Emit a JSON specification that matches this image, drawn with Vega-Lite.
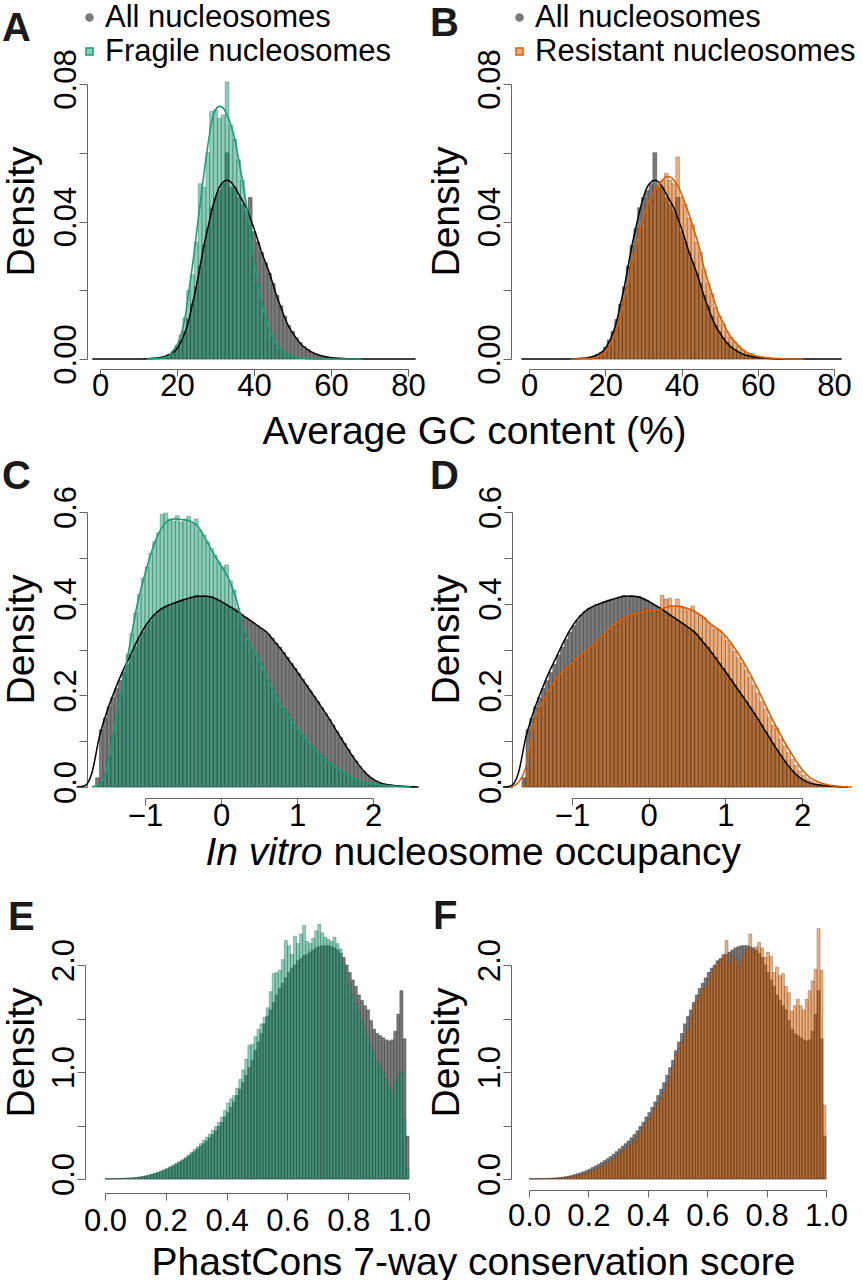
{
"$schema":"https://vega.github.io/schema/vega-lite/v6.json",
"background":"white",
"padding":{"left":2,"top":2,"right":5,"bottom":0},
"autosize":{"type":"pad"},
"config":{
 "font":"Liberation Sans",
 "view":{"stroke":null},
 "axis":{"grid":false,"domainColor":"#666666","tickColor":"#666666","domainWidth":1,"tickWidth":1,"labelColor":"#000000","labelFontSize":31,"labelFont":"Liberation Sans","titleFont":"Liberation Sans","titleFontSize":39,"titleFontWeight":"normal","titleColor":"#000000","labelFlush":false,"labelOverlap":false},
 "title":{"fontSize":40,"fontWeight":"bold","anchor":"start","frame":"group","offset":0,"color":"#1a1a1a","font":"Liberation Sans"},
 "legend":{"labelFont":"Liberation Sans"}
},
"datasets":{
 "gc":[
{"x0":11.5,"x1":12.5,"a":0.0001,"f":0,"r":0},
{"x0":12.5,"x1":13.5,"a":0.0001,"f":0,"r":0},
{"x0":13.5,"x1":14.5,"a":0.0002,"f":0,"r":0},
{"x0":14.5,"x1":15.5,"a":0.0003,"f":0.0001,"r":0.0001},
{"x0":15.5,"x1":16.5,"a":0.0005,"f":0.0002,"r":0.0001},
{"x0":16.5,"x1":17.5,"a":0.0008,"f":0.0005,"r":0.0003},
{"x0":17.5,"x1":18.5,"a":0.0013,"f":0.001,"r":0.0006},
{"x0":18.5,"x1":19.5,"a":0.002,"f":0.0022,"r":0.0012},
{"x0":19.5,"x1":20.5,"a":0.0035,"f":0.004,"r":0.002},
{"x0":20.5,"x1":21.5,"a":0.0055,"f":0.007,"r":0.0035},
{"x0":21.5,"x1":22.5,"a":0.008,"f":0.012,"r":0.0055},
{"x0":22.5,"x1":23.5,"a":0.0115,"f":0.02,"r":0.0085},
{"x0":23.5,"x1":24.5,"a":0.016,"f":0.0245,"r":0.0125},
{"x0":24.5,"x1":25.5,"a":0.021,"f":0.034,"r":0.017},
{"x0":25.5,"x1":26.5,"a":0.027,"f":0.051,"r":0.021},
{"x0":26.5,"x1":27.5,"a":0.033,"f":0.05,"r":0.028},
{"x0":27.5,"x1":28.5,"a":0.038,"f":0.06,"r":0.031},
{"x0":28.5,"x1":29.5,"a":0.044,"f":0.072,"r":0.038},
{"x0":29.5,"x1":30.5,"a":0.047,"f":0.0725,"r":0.04},
{"x0":30.5,"x1":31.5,"a":0.049,"f":0.07,"r":0.045},
{"x0":31.5,"x1":32.5,"a":0.051,"f":0.071,"r":0.046},
{"x0":32.5,"x1":33.5,"a":0.06,"f":0.0806,"r":0.05},
{"x0":33.5,"x1":34.5,"a":0.05,"f":0.068,"r":0.051},
{"x0":34.5,"x1":35.5,"a":0.05,"f":0.064,"r":0.052},
{"x0":35.5,"x1":36.5,"a":0.047,"f":0.058,"r":0.054},
{"x0":36.5,"x1":37.5,"a":0.045,"f":0.052,"r":0.052},
{"x0":37.5,"x1":38.5,"a":0.043,"f":0.044,"r":0.051},
{"x0":38.5,"x1":39.5,"a":0.047,"f":0.039,"r":0.0588},
{"x0":39.5,"x1":40.5,"a":0.037,"f":0.028,"r":0.047},
{"x0":40.5,"x1":41.5,"a":0.034,"f":0.022,"r":0.045},
{"x0":41.5,"x1":42.5,"a":0.031,"f":0.0165,"r":0.041},
{"x0":42.5,"x1":43.5,"a":0.028,"f":0.012,"r":0.039},
{"x0":43.5,"x1":44.5,"a":0.025,"f":0.0085,"r":0.034},
{"x0":44.5,"x1":45.5,"a":0.022,"f":0.006,"r":0.031},
{"x0":45.5,"x1":46.5,"a":0.0185,"f":0.004,"r":0.026},
{"x0":46.5,"x1":47.5,"a":0.0155,"f":0.0027,"r":0.022},
{"x0":47.5,"x1":48.5,"a":0.0125,"f":0.0018,"r":0.019},
{"x0":48.5,"x1":49.5,"a":0.0098,"f":0.0012,"r":0.015},
{"x0":49.5,"x1":50.5,"a":0.008,"f":0.0008,"r":0.0125},
{"x0":50.5,"x1":51.5,"a":0.0062,"f":0.0005,"r":0.0102},
{"x0":51.5,"x1":52.5,"a":0.0048,"f":0.0003,"r":0.008},
{"x0":52.5,"x1":53.5,"a":0.0036,"f":0.0002,"r":0.0063},
{"x0":53.5,"x1":54.5,"a":0.0027,"f":0.0001,"r":0.0049},
{"x0":54.5,"x1":55.5,"a":0.002,"f":0.0001,"r":0.0038},
{"x0":55.5,"x1":56.5,"a":0.0015,"f":0,"r":0.0028},
{"x0":56.5,"x1":57.5,"a":0.0011,"f":0,"r":0.002},
{"x0":57.5,"x1":58.5,"a":0.0008,"f":0,"r":0.0015},
{"x0":58.5,"x1":59.5,"a":0.0006,"f":0,"r":0.0011},
{"x0":59.5,"x1":60.5,"a":0.0004,"f":0,"r":0.0008},
{"x0":60.5,"x1":61.5,"a":0.0003,"f":0,"r":0.0006},
{"x0":61.5,"x1":62.5,"a":0.0002,"f":0,"r":0.0004},
{"x0":62.5,"x1":63.5,"a":0.0001,"f":0,"r":0.0003},
{"x0":63.5,"x1":64.5,"a":0.0001,"f":0,"r":0.0002},
{"x0":64.5,"x1":65.5,"a":0,"f":0,"r":0.0001},
{"x0":65.5,"x1":66.5,"a":0,"f":0,"r":0.0001}
 ],
 "gcd":[
{"x0":-2,"a":0,"f":null,"r":null},
{"x0":4,"a":0,"f":null,"r":null},
{"x0":8,"a":0,"f":null,"r":null},
{"x0":11,"a":0,"f":null,"r":0},
{"x0":12,"a":0.0001,"f":0,"r":0},
{"x0":14,"a":0.0002,"f":0.0001,"r":0.0001},
{"x0":15,"a":0.0003,"f":0.0001,"r":0.0001},
{"x0":16,"a":0.0005,"f":0.0002,"r":0.0001},
{"x0":17,"a":0.0008,"f":0.0005,"r":0.0003},
{"x0":18,"a":0.0013,"f":0.001,"r":0.0006},
{"x0":19,"a":0.0019,"f":0.0025,"r":0.0012},
{"x0":20,"a":0.003,"f":0.004,"r":0.002},
{"x0":21,"a":0.005,"f":0.0068,"r":0.0035},
{"x0":22,"a":0.0075,"f":0.0115,"r":0.0055},
{"x0":23,"a":0.011,"f":0.019,"r":0.0085},
{"x0":24,"a":0.016,"f":0.027,"r":0.0125},
{"x0":25,"a":0.021,"f":0.036,"r":0.017},
{"x0":26,"a":0.027,"f":0.045,"r":0.022},
{"x0":27,"a":0.033,"f":0.054,"r":0.027},
{"x0":28,"a":0.038,"f":0.062,"r":0.032},
{"x0":29,"a":0.043,"f":0.069,"r":0.037},
{"x0":30,"a":0.047,"f":0.0725,"r":0.041},
{"x0":31,"a":0.05,"f":0.0735,"r":0.0445},
{"x0":32,"a":0.0515,"f":0.073,"r":0.047},
{"x0":33,"a":0.052,"f":0.071,"r":0.049},
{"x0":34,"a":0.0515,"f":0.068,"r":0.0505},
{"x0":35,"a":0.05,"f":0.064,"r":0.052},
{"x0":36,"a":0.048,"f":0.058,"r":0.053},
{"x0":37,"a":0.046,"f":0.052,"r":0.053},
{"x0":38,"a":0.044,"f":0.045,"r":0.052},
{"x0":39,"a":0.041,"f":0.037,"r":0.0505},
{"x0":40,"a":0.038,"f":0.029,"r":0.048},
{"x0":41,"a":0.0345,"f":0.022,"r":0.045},
{"x0":42,"a":0.031,"f":0.0165,"r":0.042},
{"x0":43,"a":0.028,"f":0.012,"r":0.0385},
{"x0":44,"a":0.025,"f":0.0085,"r":0.035},
{"x0":45,"a":0.0215,"f":0.006,"r":0.031},
{"x0":46,"a":0.018,"f":0.004,"r":0.026},
{"x0":47,"a":0.015,"f":0.0027,"r":0.0225},
{"x0":48,"a":0.012,"f":0.0018,"r":0.019},
{"x0":49,"a":0.0095,"f":0.0012,"r":0.0155},
{"x0":50,"a":0.0077,"f":0.0008,"r":0.0125},
{"x0":51,"a":0.006,"f":0.0005,"r":0.0105},
{"x0":52,"a":0.0046,"f":0.0003,"r":0.008},
{"x0":53,"a":0.0035,"f":0.0002,"r":0.0063},
{"x0":54,"a":0.0027,"f":0.0001,"r":0.005},
{"x0":55,"a":0.002,"f":0.0001,"r":0.0038},
{"x0":56,"a":0.0015,"f":0,"r":0.0028},
{"x0":57,"a":0.0011,"f":0,"r":0.002},
{"x0":58,"a":0.0008,"f":0,"r":0.0015},
{"x0":60,"a":0.0004,"f":0,"r":0.0008},
{"x0":62,"a":0.0002,"f":0,"r":0.0004},
{"x0":64,"a":0.0001,"f":0,"r":0.0002},
{"x0":66,"a":0,"f":0,"r":0.0001},
{"x0":68,"a":0,"f":0,"r":0},
{"x0":72,"a":0,"f":null,"r":0},
{"x0":76,"a":0,"f":null,"r":null},
{"x0":82,"a":0,"f":null,"r":null}
 ],
 "occ":[
{"x0":-1.65,"x1":-1.6,"a":0.02,"f":0.003,"r":0.01},
{"x0":-1.6,"x1":-1.55,"a":0.125,"f":0.01,"r":0.04},
{"x0":-1.55,"x1":-1.5,"a":0.15,"f":0.03,"r":0.1},
{"x0":-1.5,"x1":-1.45,"a":0.175,"f":0.065,"r":0.15},
{"x0":-1.45,"x1":-1.4,"a":0.195,"f":0.11,"r":0.17},
{"x0":-1.4,"x1":-1.35,"a":0.215,"f":0.155,"r":0.19},
{"x0":-1.35,"x1":-1.3,"a":0.232,"f":0.2,"r":0.205},
{"x0":-1.3,"x1":-1.25,"a":0.25,"f":0.245,"r":0.22},
{"x0":-1.25,"x1":-1.2,"a":0.268,"f":0.29,"r":0.232},
{"x0":-1.2,"x1":-1.15,"a":0.288,"f":0.335,"r":0.245},
{"x0":-1.15,"x1":-1.1,"a":0.305,"f":0.38,"r":0.25},
{"x0":-1.1,"x1":-1.05,"a":0.322,"f":0.42,"r":0.262},
{"x0":-1.05,"x1":-1,"a":0.338,"f":0.455,"r":0.265},
{"x0":-1,"x1":-0.95,"a":0.352,"f":0.48,"r":0.275},
{"x0":-0.95,"x1":-0.9,"a":0.363,"f":0.51,"r":0.282},
{"x0":-0.9,"x1":-0.85,"a":0.375,"f":0.535,"r":0.29},
{"x0":-0.85,"x1":-0.8,"a":0.383,"f":0.555,"r":0.296},
{"x0":-0.8,"x1":-0.75,"a":0.39,"f":0.595,"r":0.305},
{"x0":-0.75,"x1":-0.7,"a":0.392,"f":0.598,"r":0.31},
{"x0":-0.7,"x1":-0.65,"a":0.398,"f":0.585,"r":0.318},
{"x0":-0.65,"x1":-0.6,"a":0.401,"f":0.58,"r":0.325},
{"x0":-0.6,"x1":-0.55,"a":0.404,"f":0.592,"r":0.335},
{"x0":-0.55,"x1":-0.5,"a":0.408,"f":0.578,"r":0.34},
{"x0":-0.5,"x1":-0.45,"a":0.409,"f":0.585,"r":0.35},
{"x0":-0.45,"x1":-0.4,"a":0.412,"f":0.59,"r":0.355},
{"x0":-0.4,"x1":-0.35,"a":0.415,"f":0.575,"r":0.365},
{"x0":-0.35,"x1":-0.3,"a":0.418,"f":0.585,"r":0.37},
{"x0":-0.3,"x1":-0.25,"a":0.416,"f":0.56,"r":0.372},
{"x0":-0.25,"x1":-0.2,"a":0.418,"f":0.55,"r":0.376},
{"x0":-0.2,"x1":-0.15,"a":0.415,"f":0.535,"r":0.38},
{"x0":-0.15,"x1":-0.1,"a":0.416,"f":0.52,"r":0.382},
{"x0":-0.1,"x1":-0.05,"a":0.412,"f":0.505,"r":0.385},
{"x0":-0.05,"x1":0,"a":0.408,"f":0.49,"r":0.39},
{"x0":0,"x1":0.05,"a":0.402,"f":0.48,"r":0.384},
{"x0":0.05,"x1":0.1,"a":0.397,"f":0.485,"r":0.385},
{"x0":0.1,"x1":0.15,"a":0.392,"f":0.45,"r":0.383},
{"x0":0.15,"x1":0.2,"a":0.387,"f":0.43,"r":0.418},
{"x0":0.2,"x1":0.25,"a":0.382,"f":0.39,"r":0.41},
{"x0":0.25,"x1":0.3,"a":0.376,"f":0.35,"r":0.412},
{"x0":0.3,"x1":0.35,"a":0.37,"f":0.33,"r":0.395},
{"x0":0.35,"x1":0.4,"a":0.364,"f":0.31,"r":0.41},
{"x0":0.4,"x1":0.45,"a":0.358,"f":0.295,"r":0.395},
{"x0":0.45,"x1":0.5,"a":0.352,"f":0.285,"r":0.39},
{"x0":0.5,"x1":0.55,"a":0.346,"f":0.27,"r":0.385},
{"x0":0.55,"x1":0.6,"a":0.34,"f":0.25,"r":0.395},
{"x0":0.6,"x1":0.65,"a":0.333,"f":0.232,"r":0.38},
{"x0":0.65,"x1":0.7,"a":0.325,"f":0.215,"r":0.375},
{"x0":0.7,"x1":0.75,"a":0.314,"f":0.2,"r":0.37},
{"x0":0.75,"x1":0.8,"a":0.305,"f":0.185,"r":0.36},
{"x0":0.8,"x1":0.85,"a":0.293,"f":0.172,"r":0.352},
{"x0":0.85,"x1":0.9,"a":0.283,"f":0.16,"r":0.345},
{"x0":0.9,"x1":0.95,"a":0.27,"f":0.147,"r":0.342},
{"x0":0.95,"x1":1,"a":0.259,"f":0.135,"r":0.33},
{"x0":1,"x1":1.05,"a":0.247,"f":0.124,"r":0.32},
{"x0":1.05,"x1":1.1,"a":0.235,"f":0.113,"r":0.312},
{"x0":1.1,"x1":1.15,"a":0.222,"f":0.102,"r":0.296},
{"x0":1.15,"x1":1.2,"a":0.21,"f":0.093,"r":0.282},
{"x0":1.2,"x1":1.25,"a":0.198,"f":0.084,"r":0.27},
{"x0":1.25,"x1":1.3,"a":0.186,"f":0.076,"r":0.255},
{"x0":1.3,"x1":1.35,"a":0.173,"f":0.068,"r":0.24},
{"x0":1.35,"x1":1.4,"a":0.16,"f":0.06,"r":0.222},
{"x0":1.4,"x1":1.45,"a":0.148,"f":0.053,"r":0.205},
{"x0":1.45,"x1":1.5,"a":0.135,"f":0.047,"r":0.186},
{"x0":1.5,"x1":1.55,"a":0.121,"f":0.041,"r":0.17},
{"x0":1.55,"x1":1.6,"a":0.108,"f":0.035,"r":0.152},
{"x0":1.6,"x1":1.65,"a":0.095,"f":0.03,"r":0.135},
{"x0":1.65,"x1":1.7,"a":0.082,"f":0.025,"r":0.128},
{"x0":1.7,"x1":1.75,"a":0.069,"f":0.02,"r":0.105},
{"x0":1.75,"x1":1.8,"a":0.057,"f":0.016,"r":0.09},
{"x0":1.8,"x1":1.85,"a":0.045,"f":0.013,"r":0.075},
{"x0":1.85,"x1":1.9,"a":0.035,"f":0.01,"r":0.06},
{"x0":1.9,"x1":1.95,"a":0.026,"f":0.008,"r":0.047},
{"x0":1.95,"x1":2,"a":0.019,"f":0.0065,"r":0.035},
{"x0":2,"x1":2.05,"a":0.013,"f":0.005,"r":0.025},
{"x0":2.05,"x1":2.1,"a":0.009,"f":0.004,"r":0.018},
{"x0":2.1,"x1":2.15,"a":0.007,"f":0.003,"r":0.013},
{"x0":2.15,"x1":2.2,"a":0.005,"f":0.0025,"r":0.009},
{"x0":2.2,"x1":2.25,"a":0.004,"f":0.002,"r":0.0065},
{"x0":2.25,"x1":2.3,"a":0.003,"f":0.0015,"r":0.0045},
{"x0":2.3,"x1":2.35,"a":0.002,"f":0.001,"r":0.003},
{"x0":2.35,"x1":2.4,"a":0.0015,"f":0.0008,"r":0.002},
{"x0":2.4,"x1":2.45,"a":0.001,"f":0.0005,"r":0.0012},
{"x0":2.45,"x1":2.5,"a":0.0005,"f":0.0003,"r":0.0007},
{"x0":2.5,"x1":2.55,"a":0.0003,"f":0.0001,"r":0.0003}
 ],
 "occd":[
{"x0":-1.9,"a":0,"f":null,"r":null},
{"x0":-1.8,"a":0.002,"f":null,"r":0},
{"x0":-1.7,"a":0.03,"f":0,"r":0.01},
{"x0":-1.6,"a":0.11,"f":0.005,"r":0.045},
{"x0":-1.5,"a":0.165,"f":0.04,"r":0.135},
{"x0":-1.4,"a":0.21,"f":0.13,"r":0.18},
{"x0":-1.3,"a":0.25,"f":0.22,"r":0.21},
{"x0":-1.2,"a":0.285,"f":0.31,"r":0.238},
{"x0":-1.1,"a":0.32,"f":0.4,"r":0.255},
{"x0":-1,"a":0.35,"f":0.465,"r":0.27},
{"x0":-0.9,"a":0.372,"f":0.52,"r":0.286},
{"x0":-0.8,"a":0.387,"f":0.56,"r":0.3},
{"x0":-0.7,"a":0.396,"f":0.58,"r":0.314},
{"x0":-0.6,"a":0.402,"f":0.585,"r":0.33},
{"x0":-0.5,"a":0.408,"f":0.583,"r":0.347},
{"x0":-0.4,"a":0.413,"f":0.58,"r":0.36},
{"x0":-0.3,"a":0.416,"f":0.568,"r":0.371},
{"x0":-0.2,"a":0.416,"f":0.54,"r":0.378},
{"x0":-0.1,"a":0.413,"f":0.51,"r":0.382},
{"x0":0,"a":0.405,"f":0.483,"r":0.384},
{"x0":0.1,"a":0.395,"f":0.455,"r":0.385},
{"x0":0.2,"a":0.385,"f":0.41,"r":0.39},
{"x0":0.3,"a":0.373,"f":0.345,"r":0.395},
{"x0":0.4,"a":0.362,"f":0.305,"r":0.394},
{"x0":0.5,"a":0.35,"f":0.278,"r":0.39},
{"x0":0.6,"a":0.338,"f":0.24,"r":0.383},
{"x0":0.7,"a":0.318,"f":0.205,"r":0.372},
{"x0":0.8,"a":0.298,"f":0.176,"r":0.357},
{"x0":0.9,"a":0.275,"f":0.151,"r":0.345},
{"x0":1,"a":0.252,"f":0.128,"r":0.33},
{"x0":1.1,"a":0.228,"f":0.107,"r":0.308},
{"x0":1.2,"a":0.204,"f":0.088,"r":0.283},
{"x0":1.3,"a":0.18,"f":0.071,"r":0.254},
{"x0":1.4,"a":0.155,"f":0.056,"r":0.222},
{"x0":1.5,"a":0.128,"f":0.044,"r":0.187},
{"x0":1.6,"a":0.101,"f":0.033,"r":0.152},
{"x0":1.7,"a":0.075,"f":0.023,"r":0.12},
{"x0":1.8,"a":0.051,"f":0.015,"r":0.09},
{"x0":1.9,"a":0.031,"f":0.01,"r":0.063},
{"x0":2,"a":0.017,"f":0.007,"r":0.038},
{"x0":2.1,"a":0.009,"f":0.0045,"r":0.021},
{"x0":2.2,"a":0.005,"f":0.003,"r":0.012},
{"x0":2.3,"a":0.003,"f":0.0015,"r":0.006},
{"x0":2.4,"a":0.0015,"f":0.0005,"r":0.003},
{"x0":2.5,"a":0.0005,"f":0,"r":0.001},
{"x0":2.6,"a":0,"f":null,"r":0},
{"x0":2.65,"a":null,"f":null,"r":0}
 ],
 "pc":[
{"x0":0,"x1":0.01,"a":0.002,"f":0.001,"r":0.0005},
{"x0":0.01,"x1":0.02,"a":0.002,"f":0.001,"r":0.001},
{"x0":0.02,"x1":0.03,"a":0.003,"f":0.002,"r":0.001},
{"x0":0.03,"x1":0.04,"a":0.003,"f":0.002,"r":0.0015},
{"x0":0.04,"x1":0.05,"a":0.004,"f":0.003,"r":0.002},
{"x0":0.05,"x1":0.06,"a":0.005,"f":0.004,"r":0.002},
{"x0":0.06,"x1":0.07,"a":0.006,"f":0.005,"r":0.003},
{"x0":0.07,"x1":0.08,"a":0.008,"f":0.007,"r":0.004},
{"x0":0.08,"x1":0.09,"a":0.009,"f":0.009,"r":0.005},
{"x0":0.09,"x1":0.1,"a":0.011,"f":0.011,"r":0.006},
{"x0":0.1,"x1":0.11,"a":0.014,"f":0.015,"r":0.008},
{"x0":0.11,"x1":0.12,"a":0.018,"f":0.019,"r":0.01},
{"x0":0.12,"x1":0.13,"a":0.022,"f":0.024,"r":0.013},
{"x0":0.13,"x1":0.14,"a":0.028,"f":0.03,"r":0.017},
{"x0":0.14,"x1":0.15,"a":0.034,"f":0.037,"r":0.021},
{"x0":0.15,"x1":0.16,"a":0.042,"f":0.045,"r":0.026},
{"x0":0.16,"x1":0.17,"a":0.05,"f":0.054,"r":0.032},
{"x0":0.17,"x1":0.18,"a":0.058,"f":0.064,"r":0.039},
{"x0":0.18,"x1":0.19,"a":0.068,"f":0.076,"r":0.047},
{"x0":0.19,"x1":0.2,"a":0.08,"f":0.088,"r":0.056},
{"x0":0.2,"x1":0.21,"a":0.093,"f":0.1,"r":0.066},
{"x0":0.21,"x1":0.22,"a":0.108,"f":0.115,"r":0.078},
{"x0":0.22,"x1":0.23,"a":0.122,"f":0.13,"r":0.09},
{"x0":0.23,"x1":0.24,"a":0.138,"f":0.148,"r":0.104},
{"x0":0.24,"x1":0.25,"a":0.155,"f":0.165,"r":0.118},
{"x0":0.25,"x1":0.26,"a":0.172,"f":0.18,"r":0.133},
{"x0":0.26,"x1":0.27,"a":0.19,"f":0.2,"r":0.15},
{"x0":0.27,"x1":0.28,"a":0.21,"f":0.225,"r":0.168},
{"x0":0.28,"x1":0.29,"a":0.232,"f":0.25,"r":0.19},
{"x0":0.29,"x1":0.3,"a":0.255,"f":0.275,"r":0.212},
{"x0":0.3,"x1":0.31,"a":0.28,"f":0.3,"r":0.235},
{"x0":0.31,"x1":0.32,"a":0.305,"f":0.33,"r":0.258},
{"x0":0.32,"x1":0.33,"a":0.33,"f":0.36,"r":0.28},
{"x0":0.33,"x1":0.34,"a":0.355,"f":0.39,"r":0.3},
{"x0":0.34,"x1":0.35,"a":0.385,"f":0.42,"r":0.325},
{"x0":0.35,"x1":0.36,"a":0.415,"f":0.455,"r":0.355},
{"x0":0.36,"x1":0.37,"a":0.45,"f":0.49,"r":0.39},
{"x0":0.37,"x1":0.38,"a":0.49,"f":0.53,"r":0.43},
{"x0":0.38,"x1":0.39,"a":0.53,"f":0.58,"r":0.48},
{"x0":0.39,"x1":0.4,"a":0.58,"f":0.64,"r":0.53},
{"x0":0.4,"x1":0.41,"a":0.62,"f":0.71,"r":0.56},
{"x0":0.41,"x1":0.42,"a":0.67,"f":0.75,"r":0.61},
{"x0":0.42,"x1":0.43,"a":0.72,"f":0.78,"r":0.66},
{"x0":0.43,"x1":0.44,"a":0.78,"f":0.85,"r":0.71},
{"x0":0.44,"x1":0.45,"a":0.84,"f":0.93,"r":0.76},
{"x0":0.45,"x1":0.46,"a":0.9,"f":1.02,"r":0.81},
{"x0":0.46,"x1":0.47,"a":0.97,"f":1.12,"r":0.88},
{"x0":0.47,"x1":0.48,"a":1.04,"f":1.25,"r":0.95},
{"x0":0.48,"x1":0.49,"a":1.11,"f":1.26,"r":1.05},
{"x0":0.49,"x1":0.5,"a":1.2,"f":1.33,"r":1.16},
{"x0":0.5,"x1":0.51,"a":1.28,"f":1.4,"r":1.22},
{"x0":0.51,"x1":0.52,"a":1.36,"f":1.45,"r":1.28},
{"x0":0.52,"x1":0.53,"a":1.45,"f":1.51,"r":1.33},
{"x0":0.53,"x1":0.54,"a":1.52,"f":1.6,"r":1.4},
{"x0":0.54,"x1":0.55,"a":1.58,"f":1.75,"r":1.5},
{"x0":0.55,"x1":0.56,"a":1.65,"f":1.92,"r":1.62},
{"x0":0.56,"x1":0.57,"a":1.72,"f":1.93,"r":1.67},
{"x0":0.57,"x1":0.58,"a":1.78,"f":1.95,"r":1.72},
{"x0":0.58,"x1":0.59,"a":1.83,"f":2.05,"r":1.77},
{"x0":0.59,"x1":0.6,"a":1.88,"f":2.23,"r":1.8},
{"x0":0.6,"x1":0.61,"a":1.93,"f":2.18,"r":1.86},
{"x0":0.61,"x1":0.62,"a":1.97,"f":2.1,"r":1.93},
{"x0":0.62,"x1":0.63,"a":2,"f":2.27,"r":1.98},
{"x0":0.63,"x1":0.64,"a":2.04,"f":2.2,"r":2.02},
{"x0":0.64,"x1":0.65,"a":2.06,"f":2.29,"r":2.05},
{"x0":0.65,"x1":0.66,"a":2.09,"f":2.37,"r":2.1},
{"x0":0.66,"x1":0.67,"a":2.1,"f":2.22,"r":2.23},
{"x0":0.67,"x1":0.68,"a":2.12,"f":2.2,"r":2.02},
{"x0":0.68,"x1":0.69,"a":2.14,"f":2.25,"r":2.08},
{"x0":0.69,"x1":0.7,"a":2.16,"f":2.32,"r":2.05},
{"x0":0.7,"x1":0.71,"a":2.17,"f":2.38,"r":1.98},
{"x0":0.71,"x1":0.72,"a":2.18,"f":2.3,"r":2.04},
{"x0":0.72,"x1":0.73,"a":2.18,"f":2.26,"r":2.1},
{"x0":0.73,"x1":0.74,"a":2.18,"f":2.24,"r":2.15},
{"x0":0.74,"x1":0.75,"a":2.17,"f":2.22,"r":2.29},
{"x0":0.75,"x1":0.76,"a":2.16,"f":2.26,"r":2.12},
{"x0":0.76,"x1":0.77,"a":2.14,"f":2.2,"r":2.17},
{"x0":0.77,"x1":0.78,"a":2.11,"f":2.15,"r":2.21},
{"x0":0.78,"x1":0.79,"a":2.07,"f":2.02,"r":2.16},
{"x0":0.79,"x1":0.8,"a":2,"f":1.92,"r":2.07},
{"x0":0.8,"x1":0.81,"a":1.93,"f":1.81,"r":2.12},
{"x0":0.81,"x1":0.82,"a":1.86,"f":1.72,"r":2.08},
{"x0":0.82,"x1":0.83,"a":1.8,"f":1.64,"r":1.93},
{"x0":0.83,"x1":0.84,"a":1.72,"f":1.56,"r":1.98},
{"x0":0.84,"x1":0.85,"a":1.67,"f":1.48,"r":1.9},
{"x0":0.85,"x1":0.86,"a":1.62,"f":1.4,"r":1.92},
{"x0":0.86,"x1":0.87,"a":1.58,"f":1.32,"r":1.8},
{"x0":0.87,"x1":0.88,"a":1.48,"f":1.25,"r":1.74},
{"x0":0.88,"x1":0.89,"a":1.4,"f":1.18,"r":1.57},
{"x0":0.89,"x1":0.9,"a":1.36,"f":1.1,"r":1.62},
{"x0":0.9,"x1":0.91,"a":1.34,"f":1.06,"r":1.68},
{"x0":0.91,"x1":0.92,"a":1.32,"f":1,"r":1.62},
{"x0":0.92,"x1":0.93,"a":1.3,"f":0.93,"r":1.58},
{"x0":0.93,"x1":0.94,"a":1.29,"f":0.85,"r":1.68},
{"x0":0.94,"x1":0.95,"a":1.3,"f":0.79,"r":1.76},
{"x0":0.95,"x1":0.96,"a":1.38,"f":0.9,"r":1.85},
{"x0":0.96,"x1":0.97,"a":1.54,"f":0.96,"r":1.96},
{"x0":0.97,"x1":0.98,"a":1.76,"f":1,"r":2.34},
{"x0":0.98,"x1":0.99,"a":1.31,"f":0.56,"r":1.95},
{"x0":0.99,"x1":1,"a":0.4,"f":0.09,"r":0.69}
 ]
},
"resolve":{"scale":{"fill":"independent","stroke":"independent","shape":"independent"},"legend":{"fill":"independent","stroke":"independent","shape":"independent"}},
"spacing":6,
"vconcat":[
 {
  "hconcat":[
   {
    "width":308,"height":275,
    "title":{"text":"A","dx":-98,"dy":51},
    "encoding":{"x":{"field":"x0","type":"quantitative","scale":{"domain":[0,80],"nice":false,"zero":false},
      "axis":{"values":[0,20,40,60,80],"format":"d","offset":10,"tickSize":7,"labelPadding":-5,"title":"Average GC content (%)","titleX":374,"titleY":74,"titleAlign":"center","titleBaseline":"alphabetic"}}},
    "layer":[
     {"data":{"name":"gc"},"mark":{"type":"bar","fill":"#7a7a7a","stroke":"#3c3c3c","strokeWidth":0.5},
      "encoding":{"x2":{"field":"x1"},
       "y":{"field":"a","type":"quantitative","stack":null,"scale":{"domain":[0,0.08],"nice":false},
        "axis":{"values":[0,0.02,0.04,0.06,0.08],"labelExpr":"datum.value == 0.02 || datum.value == 0.06 ? '' : format(datum.value, '.2f')","offset":13,"tickSize":8,"labelPadding":4,"labelOffset":-5,"labelAngle":270,"labelAlign":"center","labelBaseline":"alphabetic","title":"Density","titleX":-54,"titleY":127,"titleAngle":270,"titleAlign":"center","titleBaseline":"alphabetic"}},
       "y2":{"datum":0}}},
     {"data":{"name":"gc"},"mark":{"type":"bar","fill":"#1b9e77","fillOpacity":0.5,"stroke":"#0b4a37","strokeOpacity":0.6,"strokeWidth":0.5},
      "encoding":{"x2":{"field":"x1"},"y":{"field":"f","type":"quantitative","stack":null,"scale":{"domain":[0,0.08],"nice":false}},"y2":{"datum":0}}},
     {"data":{"name":"gcd"},"mark":{"type":"line","color":"#000000","strokeWidth":1.5,"interpolate":"monotone"},
      "encoding":{"y":{"field":"a","type":"quantitative","scale":{"domain":[0,0.08],"nice":false}}}},
     {"data":{"name":"gcd"},"mark":{"type":"line","color":"#1b9e77","strokeWidth":1.6,"interpolate":"monotone"},
      "encoding":{"y":{"field":"f","type":"quantitative","scale":{"domain":[0,0.08],"nice":false}}}},
     {"data":{"name":"gc"},"transform":[{"fold":["a","f"],"as":["grp","v"]}],
      "mark":{"type":"point","filled":true,"opacity":0},
      "encoding":{
       "y":{"field":"v","type":"quantitative","scale":{"domain":[0,0.08],"nice":false}},
       "fill":{"field":"grp","type":"nominal","scale":{"domain":["a","f"],"range":["#7a7a7a","#8dcebb"]},
        "legend":{"title":null,"orient":"none","legendX":-26,"legendY":-82,"padding":0,"offset":0,"rowPadding":2,"labelOffset":0,"labelFontSize":31,"labelLimit":0,"labelColor":"#000000","symbolSize":50,"symbolStrokeWidth":1.5,"symbolOpacity":1,"labelExpr":"datum.value == 'a' ? 'All nucleosomes' : 'Fragile nucleosomes'"}},
       "stroke":{"field":"grp","type":"nominal","scale":{"domain":["a","f"],"range":["#7a7a7a","#1b9e77"]},
        "legend":{"title":null,"orient":"none","legendX":-26,"legendY":-82,"padding":0,"offset":0,"rowPadding":2,"labelOffset":0,"labelFontSize":31,"labelLimit":0,"labelColor":"#000000","symbolSize":50,"symbolStrokeWidth":1.5,"symbolOpacity":1,"labelExpr":"datum.value == 'a' ? 'All nucleosomes' : 'Fragile nucleosomes'"}},
       "shape":{"field":"grp","type":"nominal","scale":{"domain":["a","f"],"range":["circle","square"]},
        "legend":{"title":null,"orient":"none","legendX":-26,"legendY":-82,"padding":0,"offset":0,"rowPadding":2,"labelOffset":0,"labelFontSize":31,"labelLimit":0,"labelColor":"#000000","symbolSize":50,"symbolStrokeWidth":1.5,"symbolOpacity":1,"labelExpr":"datum.value == 'a' ? 'All nucleosomes' : 'Fragile nucleosomes'"}}}}
    ]
   },
   {
    "width":305,"height":275,
    "title":{"text":"B","dx":-99,"dy":46},
    "encoding":{"x":{"field":"x0","type":"quantitative","scale":{"domain":[0,80],"nice":false,"zero":false},
      "axis":{"values":[0,20,40,60,80],"format":"d","offset":10,"tickSize":7,"labelPadding":-5,"title":null}}},
    "layer":[
     {"data":{"name":"gc"},"mark":{"type":"bar","fill":"#7a7a7a","stroke":"#3c3c3c","strokeWidth":0.5},
      "encoding":{"x2":{"field":"x1"},
       "y":{"field":"a","type":"quantitative","stack":null,"scale":{"domain":[0,0.08],"nice":false},
        "axis":{"values":[0,0.02,0.04,0.06,0.08],"labelExpr":"datum.value == 0.02 || datum.value == 0.06 ? '' : format(datum.value, '.2f')","offset":18,"tickSize":8,"labelPadding":4,"labelOffset":-5,"labelAngle":270,"labelAlign":"center","labelBaseline":"alphabetic","title":"Density","titleX":-53,"titleY":127,"titleAngle":270,"titleAlign":"center","titleBaseline":"alphabetic"}},
       "y2":{"datum":0}}},
     {"data":{"name":"gc"},"mark":{"type":"bar","fill":"#d95f02","fillOpacity":0.5,"stroke":"#5a2800","strokeOpacity":0.6,"strokeWidth":0.5},
      "encoding":{"x2":{"field":"x1"},"y":{"field":"r","type":"quantitative","stack":null,"scale":{"domain":[0,0.08],"nice":false}},"y2":{"datum":0}}},
     {"data":{"name":"gcd"},"mark":{"type":"line","color":"#000000","strokeWidth":1.5,"interpolate":"monotone"},
      "encoding":{"y":{"field":"a","type":"quantitative","scale":{"domain":[0,0.08],"nice":false}}}},
     {"data":{"name":"gcd"},"mark":{"type":"line","color":"#d95f02","strokeWidth":1.6,"interpolate":"monotone"},
      "encoding":{"y":{"field":"r","type":"quantitative","scale":{"domain":[0,0.08],"nice":false}}}},
     {"data":{"name":"gc"},"transform":[{"fold":["a","r"],"as":["grp","v"]}],
      "mark":{"type":"point","filled":true,"opacity":0},
      "encoding":{
       "y":{"field":"v","type":"quantitative","scale":{"domain":[0,0.08],"nice":false}},
       "fill":{"field":"grp","type":"nominal","scale":{"domain":["a","r"],"range":["#7a7a7a","#ecaf80"]},
        "legend":{"title":null,"orient":"none","legendX":-25,"legendY":-82,"padding":0,"offset":0,"rowPadding":2,"labelOffset":0,"labelFontSize":31,"labelLimit":0,"labelColor":"#000000","symbolSize":50,"symbolStrokeWidth":1.5,"symbolOpacity":1,"labelExpr":"datum.value == 'a' ? 'All nucleosomes' : 'Resistant nucleosomes'"}},
       "stroke":{"field":"grp","type":"nominal","scale":{"domain":["a","r"],"range":["#7a7a7a","#d95f02"]},
        "legend":{"title":null,"orient":"none","legendX":-25,"legendY":-82,"padding":0,"offset":0,"rowPadding":2,"labelOffset":0,"labelFontSize":31,"labelLimit":0,"labelColor":"#000000","symbolSize":50,"symbolStrokeWidth":1.5,"symbolOpacity":1,"labelExpr":"datum.value == 'a' ? 'All nucleosomes' : 'Resistant nucleosomes'"}},
       "shape":{"field":"grp","type":"nominal","scale":{"domain":["a","r"],"range":["circle","square"]},
        "legend":{"title":null,"orient":"none","legendX":-25,"legendY":-82,"padding":0,"offset":0,"rowPadding":2,"labelOffset":0,"labelFontSize":31,"labelLimit":0,"labelColor":"#000000","symbolSize":50,"symbolStrokeWidth":1.5,"symbolOpacity":1,"labelExpr":"datum.value == 'a' ? 'All nucleosomes' : 'Resistant nucleosomes'"}}}}
    ]
   }
  ],
  "spacing":121,
  "bounds":"flush",
  "resolve":{"scale":{"fill":"independent","stroke":"independent","shape":"independent"},"legend":{"fill":"independent","stroke":"independent","shape":"independent"}}
 },
 {
  "spacing":25,
  "vconcat":[
   {
    "spacing":0,
    "bounds":"flush",
    "hconcat":[
     {"width":45,"height":1,"data":{"values":[]},"mark":"point"},
     {
      "hconcat":[
       {
        "width":228,"height":275,
        "title":{"text":"C","dx":-143,"dy":16},
        "encoding":{"x":{"field":"x0","type":"quantitative","scale":{"domain":[-1,2],"nice":false,"zero":false},
          "axis":{"values":[-1,0,1,2],"format":"d","offset":11,"tickSize":7,"labelPadding":-4,"title":"In vitro","titleFontStyle":"italic","titleX":177,"titleY":66,"titleAlign":"right","titleBaseline":"alphabetic"}}},
        "layer":[
         {"data":{"name":"occ"},"mark":{"type":"bar","fill":"#7a7a7a","stroke":"#3c3c3c","strokeWidth":0.5},
          "encoding":{"x2":{"field":"x1"},
           "y":{"field":"a","type":"quantitative","stack":null,"scale":{"domain":[0,0.6],"nice":false},
            "axis":{"values":[0,0.1,0.2,0.3,0.4,0.5,0.6],"labelExpr":"datum.value == 0.1 || datum.value == 0.3 || datum.value == 0.5 ? '' : format(datum.value, '.1f')","offset":58,"tickSize":8,"labelPadding":4,"labelOffset":-5,"labelAngle":270,"labelAlign":"center","labelBaseline":"alphabetic","title":"Density","titleX":-54,"titleY":127,"titleAngle":270,"titleAlign":"center","titleBaseline":"alphabetic"}},
           "y2":{"datum":0}}},
         {"data":{"name":"occ"},"mark":{"type":"bar","fill":"#1b9e77","fillOpacity":0.5,"stroke":"#0b4a37","strokeOpacity":0.6,"strokeWidth":0.5},
          "encoding":{"x2":{"field":"x1"},"y":{"field":"f","type":"quantitative","stack":null,"scale":{"domain":[0,0.6],"nice":false}},"y2":{"datum":0}}},
         {"data":{"name":"occd"},"mark":{"type":"line","color":"#000000","strokeWidth":1.5,"interpolate":"monotone"},
          "encoding":{"y":{"field":"a","type":"quantitative","scale":{"domain":[0,0.6],"nice":false}}}},
         {"data":{"name":"occd"},"mark":{"type":"line","color":"#1b9e77","strokeWidth":1.6,"interpolate":"monotone"},
          "encoding":{"y":{"field":"f","type":"quantitative","scale":{"domain":[0,0.6],"nice":false}}}}
        ]
       },
       {
        "width":230,"height":275,
        "title":{"text":"D","dx":-142,"dy":16},
        "encoding":{"x":{"field":"x0","type":"quantitative","scale":{"domain":[-1,2],"nice":false,"zero":false},
          "axis":{"values":[-1,0,1,2],"format":"d","offset":11,"tickSize":7,"labelPadding":-4,"title":"nucleosome occupancy","titleX":-239,"titleY":66,"titleAlign":"left","titleBaseline":"alphabetic"}}},
        "layer":[
         {"data":{"name":"occ"},"mark":{"type":"bar","fill":"#7a7a7a","stroke":"#3c3c3c","strokeWidth":0.5},
          "encoding":{"x2":{"field":"x1"},
           "y":{"field":"a","type":"quantitative","stack":null,"scale":{"domain":[0,0.6],"nice":false},
            "axis":{"values":[0,0.1,0.2,0.3,0.4,0.5,0.6],"labelExpr":"datum.value == 0.1 || datum.value == 0.3 || datum.value == 0.5 ? '' : format(datum.value, '.1f')","offset":60,"tickSize":8,"labelPadding":4,"labelOffset":-5,"labelAngle":270,"labelAlign":"center","labelBaseline":"alphabetic","title":"Density","titleX":-54,"titleY":127,"titleAngle":270,"titleAlign":"center","titleBaseline":"alphabetic"}},
           "y2":{"datum":0}}},
         {"data":{"name":"occ"},"mark":{"type":"bar","fill":"#d95f02","fillOpacity":0.5,"stroke":"#5a2800","strokeOpacity":0.6,"strokeWidth":0.5},
          "encoding":{"x2":{"field":"x1"},"y":{"field":"r","type":"quantitative","stack":null,"scale":{"domain":[0,0.6],"nice":false}},"y2":{"datum":0}}},
         {"data":{"name":"occd"},"mark":{"type":"line","color":"#000000","strokeWidth":1.5,"interpolate":"monotone"},
          "encoding":{"y":{"field":"a","type":"quantitative","scale":{"domain":[0,0.6],"nice":false}}}},
         {"data":{"name":"occd"},"mark":{"type":"line","color":"#d95f02","strokeWidth":1.6,"interpolate":"monotone"},
          "encoding":{"y":{"field":"r","type":"quantitative","scale":{"domain":[0,0.6],"nice":false}}}}
        ]
       }
      ],
      "spacing":199,
      "bounds":"flush"
     }
    ]
   },
   {
    "spacing":0,
    "bounds":"flush",
    "hconcat":[
     {"width":5,"height":1,"data":{"values":[]},"mark":"point"},
     {
      "hconcat":[
       {
        "width":304,"height":214,
        "title":{"text":"E","dx":-97,"dy":18},
        "data":{"name":"pc"},
        "encoding":{"x":{"field":"x0","type":"quantitative","scale":{"domain":[0,1],"nice":false,"zero":false},
          "axis":{"values":[0,0.2,0.4,0.6,0.8,1],"format":".1f","offset":14,"tickSize":7,"labelPadding":6,"title":"PhastCons 7-way conservation score","titleX":368,"titleY":81,"titleAlign":"center","titleBaseline":"alphabetic"}},
         "x2":{"field":"x1"},"y2":{"datum":0}},
        "layer":[
         {"mark":{"type":"bar","fill":"#7a7a7a","stroke":"#3c3c3c","strokeWidth":0.5},
          "encoding":{"y":{"field":"a","type":"quantitative","stack":null,"scale":{"domain":[0,2],"nice":false},
            "axis":{"values":[0,0.5,1,1.5,2],"labelExpr":"datum.value == 0.5 || datum.value == 1.5 ? '' : format(datum.value, '.1f')","offset":20,"tickSize":8,"labelPadding":4,"labelOffset":-5,"labelAngle":270,"labelAlign":"center","labelBaseline":"alphabetic","title":"Density","titleX":-52,"titleY":87,"titleAngle":270,"titleAlign":"center","titleBaseline":"alphabetic"}}}},
         {"mark":{"type":"bar","fill":"#1b9e77","fillOpacity":0.5,"stroke":"#0b4a37","strokeOpacity":0.6,"strokeWidth":0.5},
          "encoding":{"y":{"field":"f","type":"quantitative","stack":null,"scale":{"domain":[0,2],"nice":false}}}}
        ]
       },
       {
        "width":297,"height":214,
        "title":{"text":"F","dx":-96,"dy":13},
        "data":{"name":"pc"},
        "encoding":{"x":{"field":"x0","type":"quantitative","scale":{"domain":[0,1],"nice":false,"zero":false},
          "axis":{"values":[0,0.2,0.4,0.6,0.8,1],"format":".1f","offset":11,"tickSize":7,"labelPadding":4,"title":null}},
         "x2":{"field":"x1"},"y2":{"datum":0}},
        "layer":[
         {"mark":{"type":"bar","fill":"#7a7a7a","stroke":"#3c3c3c","strokeWidth":0.5},
          "encoding":{"y":{"field":"a","type":"quantitative","stack":null,"scale":{"domain":[0,2],"nice":false},
            "axis":{"values":[0,0.5,1,1.5,2],"labelExpr":"datum.value == 0.5 || datum.value == 1.5 ? '' : format(datum.value, '.1f')","offset":18,"tickSize":8,"labelPadding":4,"labelOffset":-5,"labelAngle":270,"labelAlign":"center","labelBaseline":"alphabetic","title":"Density","titleX":-53,"titleY":87,"titleAngle":270,"titleAlign":"center","titleBaseline":"alphabetic"}}}},
         {"mark":{"type":"bar","fill":"#d95f02","fillOpacity":0.5,"stroke":"#5a2800","strokeOpacity":0.6,"strokeWidth":0.5},
          "encoding":{"y":{"field":"r","type":"quantitative","stack":null,"scale":{"domain":[0,2],"nice":false}}}}
        ]
       }
      ],
      "spacing":120,
      "bounds":"flush"
     }
    ]
   }
  ]
 }
]
}
